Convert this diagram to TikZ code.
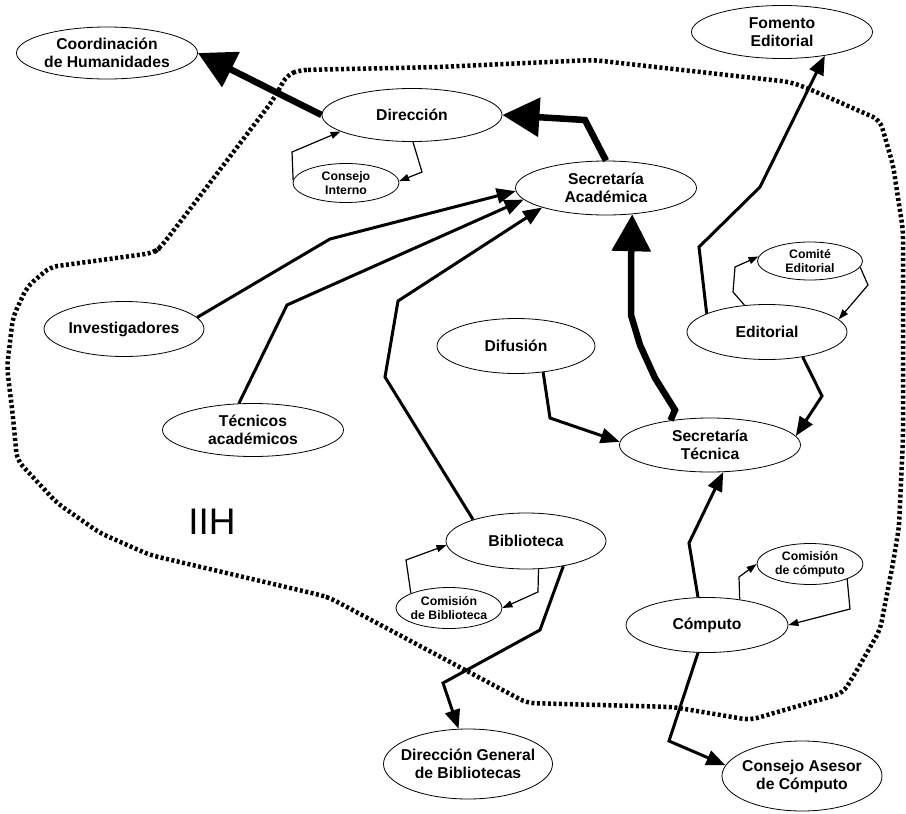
\documentclass[tikz,border=0pt]{standalone}
\usepackage{fontspec}
\setmainfont{Liberation Sans}
\usetikzlibrary{shapes.geometric,arrows.meta}

\tikzset{
  unit/.style={ellipse,draw,line width=0.8pt,inner sep=0pt,align=center,
    font=\fontsize{15.7}{18}\bfseries\selectfont},
  sub/.style={ellipse,draw,line width=0.8pt,inner sep=0pt,inner xsep=-2pt,align=center,
    font=\fontsize{12.3}{14}\bfseries\selectfont},
  heavy/.style={line width=6.5pt,-{Triangle[length=37pt,width=38pt]}},
  flow/.style={line width=3pt,-{Triangle[length=19pt,width=15pt]}},
  fine/.style={line width=1.2pt,-{Triangle[length=10pt,width=7pt]}},
  iih/.style={line width=4.5pt,dash pattern=on 3pt off 2.5pt,rounded corners=8pt}
}

\begin{document}
\begin{tikzpicture}[x=1pt,y=-1pt]
\useasboundingbox (0,0) rectangle (906,814);

\draw[iih] (300,70) -- (440,67) -- (593,60) -- (790,82) -- (807,88) -- (880,120)
  -- (893,165) -- (903,230) -- (903,300) -- (903,440) -- (899,527) -- (893,563)
  -- (880,630) -- (857,670) -- (843,693) -- (750,720) -- (673,707) -- (527,703)
  -- (330,598) -- (320,595) -- (150,555) -- (100,533) -- (57,503) -- (17,460)
  -- (13,417) -- (7,367) -- (13,317) -- (27,287) -- (50,267) -- (153,253)
  -- (160,248) -- (187,213) -- (273,100) -- (287,75) -- cycle;

\node[font=\fontsize{37}{40}\selectfont] at (212,522) (iihname) {IIH};

\node[unit,minimum width=181,minimum height=52] at (107,53) (coord) {Coordinación\\de Humanidades};
\node[unit,minimum width=180,minimum height=53] at (412,115) (dir) {Dirección};
\node[sub,minimum width=106,minimum height=39] at (346,183) (ci) {Consejo\\Interno};
\node[unit,minimum width=181,minimum height=54] at (606,188) (sa) {Secretaría\\Académica};
\node[unit,minimum width=181,minimum height=53] at (782,32) (fom) {Fomento\\Editorial};
\node[sub,minimum width=105,minimum height=38] at (810,261) (ce) {Comité\\Editorial};
\node[unit,minimum width=160,minimum height=55] at (767,332) (edit) {Editorial};
\node[unit,minimum width=160,minimum height=55] at (124,329) (inv) {Investigadores};
\node[unit,minimum width=181,minimum height=53] at (253,430) (tec) {Técnicos\\académicos};
\node[unit,minimum width=158,minimum height=55] at (516,346) (dif) {Difusión};
\node[unit,minimum width=181,minimum height=54] at (710,445) (st) {Secretaría\\Técnica};
\node[unit,minimum width=160,minimum height=56] at (526,541) (bib) {Biblioteca};
\node[sub,minimum width=106,minimum height=41] at (449,608) (cb) {Comisión\\de Biblioteca};
\node[unit,inner xsep=-12pt,minimum width=169,minimum height=70] at (468,764) (dgb) {Dirección General\\de Bibliotecas};
\node[unit,minimum width=162,minimum height=55] at (707,625) (cmp) {Cómputo};
\node[sub,minimum width=106,minimum height=41] at (810,564) (cc) {Comisión\\de cómputo};
\node[unit,inner xsep=-12pt,minimum width=160,minimum height=70] at (802,776) (cac) {Consejo Asesor\\de Cómputo};

\draw[heavy] (dir.west) -- (coord.east);
\draw[heavy] (sa.north) -- (585,120) -- (dir.east);
\draw[heavy] (st.148) -- (675,410) -- (670,402) -- (655,378) -- (640,345) -- (631,315) -- (631,262) -- (sa.315);

\draw[flow] (inv.9) -- (330,239) -- (sa.182);
\draw[flow] (tec.118) -- (287,305) -- (sa.188);
\draw[flow] (bib.158) -- (385,377) -- (398,301) -- (sa.197);
\draw[flow] (edit.163) -- (699,247) -- (760,187) -- (fom.331);
\draw[flow] (edit.325) -- (822,396) -- (st.6);
\draw[flow] (dif.316) -- (550,418) -- (st.178);
\draw[flow] (cmp.108) -- (689,543) -- (st.296);
\draw[flow] (cmp.252) -- (669,741) -- (cac.172);
\draw[flow] (bib.326) -- (540,630) -- (443,683) -- (dgb.105);

\draw[fine] (ci.177) -- (292,152) -- (dir.193);
\draw[fine] (dir.272) -- (422,172) -- (ci.2);
\draw[fine] (edit.130) -- (733,292) -- (735,267) -- (ce.175);
\draw[fine] (ce.353) -- (868,285) -- (edit.10);
\draw[fine] (cb.159) -- (406,560) -- (bib.183);
\draw[fine] (bib.294) -- (538,592) -- (cb.east);
\draw[fine] (cmp.38) -- (739,577) -- (cc.180);
\draw[fine] (cc.338) -- (850,609) -- (cmp.0);
\end{tikzpicture}
\end{document}
